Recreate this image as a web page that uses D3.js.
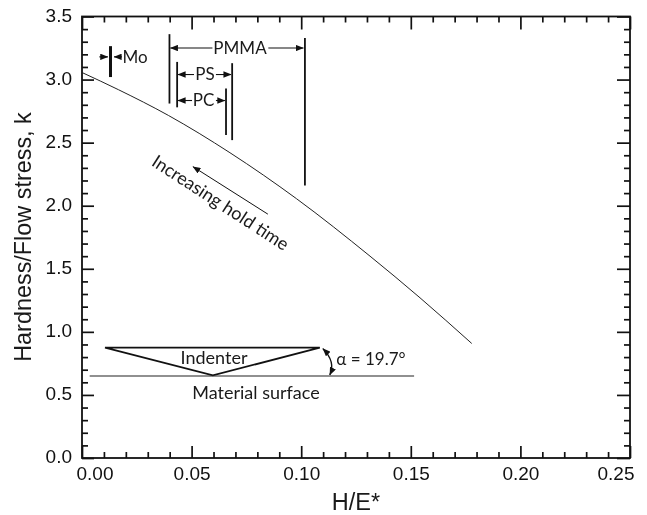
<!DOCTYPE html>
<html>
<head>
<meta charset="utf-8">
<script src="https://cdn.jsdelivr.net/npm/d3@7"></script>
<style>
  html, body { margin: 0; padding: 0; background: #fff; }
  svg { display: block; will-change: transform; }
  .tick text { font-family: "Liberation Sans", Arial, sans-serif; fill: #111; }
  .note { font-family: Lato, "Open Sans", sans-serif; fill: #1a1a1a; }
  .title { font-family: "Liberation Sans", Arial, sans-serif; fill: #1a1a1a; }
</style>
</head>
<body>
<svg id="chart" width="647" height="515"></svg>
<script>
// values
var xMajor = [0, 0.05, 0.10, 0.15, 0.20, 0.25];
var yMajor = [0, 0.5, 1.0, 1.5, 2.0, 2.5, 3.0, 3.5];
var xMinor = d3.range(0, 26).map(function(i) { return i / 100; }).filter(function(d, i) { return i % 5 !== 0; });
var yMinor = d3.range(0, 36).map(function(i) { return i / 10; }).filter(function(d, i) { return i % 5 !== 0; });

var curveX = [0, 0.0166, 0.0394, 0.0675, 0.0979, 0.1314, 0.1542, 0.1778];
var curveY = [3.056, 2.92, 2.716, 2.42, 2.055, 1.60, 1.27, 0.908];

// [x, top, bottom, width]
var bars = [
  [0.0130, 3.265, 3.02, 3],    // Mo
  [0.0399, 3.36, 2.81, 1.8],   // PMMA left
  [0.1017, 3.33, 2.16, 1.8],   // PMMA right
  [0.0434, 3.14, 2.78, 1.8],   // PS left
  [0.0685, 3.13, 2.52, 1.8],   // PS right
  [0.0657, 2.93, 2.56, 1.8]    // PC right
];

// [x1, x2, y, head at start, head at end]
var dims = [
  [0.0079, 0.0118, 3.18, 0, 1],
  [0.0182, 0.0146, 3.18, 0, 1],
  [0.0403, 0.0595, 3.25, 1, 0],
  [0.0850, 0.1010, 3.25, 0, 1],
  [0.0438, 0.0511, 3.04, 1, 0],
  [0.0611, 0.0680, 3.04, 0, 1],
  [0.0438, 0.0502, 2.834, 1, 0],
  [0.0611, 0.0652, 2.834, 0, 1]
];

var holdArrow = [[0.0848, 1.933], [0.0506, 2.31]];
var indenterX = [0.0105, 0.1085, 0.0597];
var indenterY = [0.875, 0.875, 0.655];
var surfaceX = [0.0035, 0.1515];
var surfaceY = 0.65;

var svg = d3.select("#chart");
var plotLeft = 82, plotRight = 630, plotTop = 16.5, plotBottom = 458;

var x = d3.scaleLinear().domain([0, 0.25]).range([plotLeft, plotRight]);
var y = d3.scaleLinear().domain([0, 3.5]).range([plotBottom, plotTop]);

var defs = svg.append("defs");
defs.append("marker")
    .attr("id", "head")
    .attr("viewBox", "0 0 10 8")
    .attr("refX", 9.5)
    .attr("refY", 4)
    .attr("markerUnits", "userSpaceOnUse")
    .attr("markerWidth", 8)
    .attr("markerHeight", 6.5)
    .attr("orient", "auto-start-reverse")
  .append("path")
    .attr("d", "M0,0L10,4L0,8Z")
    .attr("fill", "#111");

function drawAxis(gen, tx, ty, labels) {
  var g = svg.append("g").attr("transform", "translate(" + tx + "," + ty + ")").call(gen);
  g.select(".domain").remove();
  g.selectAll("line").attr("stroke", "#111").attr("stroke-width", 1.7);
  if (!labels) g.selectAll("text").remove();
  return g;
}

// ticks: all four sides point inwards
drawAxis(d3.axisBottom(x).tickValues(xMinor).tickSize(-6), 0, plotBottom);
drawAxis(d3.axisTop(x).tickValues(xMinor).tickSize(-6), 0, plotTop);
drawAxis(d3.axisLeft(y).tickValues(yMinor).tickSize(-6), plotLeft, 0);
drawAxis(d3.axisRight(y).tickValues(yMinor).tickSize(-6), plotRight, 0);
drawAxis(d3.axisTop(x).tickValues(xMajor).tickSize(-13), 0, plotTop);
drawAxis(d3.axisRight(y).tickValues(yMajor).tickSize(-13), plotRight, 0);

var xAxis = drawAxis(d3.axisBottom(x).tickValues(xMajor).tickSize(-12).tickPadding(0).tickFormat(d3.format(".2f")), 0, plotBottom, true);
xAxis.selectAll("text")
    .attr("y", 9)
    .attr("dy", "0.71em")
    .attr("text-anchor", function(d) { return d === 0 ? "start" : d === 0.25 ? "end" : "middle"; })
    .attr("dx", function(d) { return d === 0 ? -6 : d === 0.25 ? 4 : 0; })
    .style("font-size", "19px");

var yAxis = drawAxis(d3.axisLeft(y).tickValues(yMajor).tickSize(-12).tickPadding(10).tickFormat(d3.format(".1f")), plotLeft, 0, true);
yAxis.selectAll("text").attr("dy", "0.25em").style("font-size", "19px");

svg.append("rect")
    .attr("x", plotLeft).attr("y", plotTop)
    .attr("width", plotRight - plotLeft).attr("height", plotBottom - plotTop)
    .attr("fill", "none").attr("stroke", "#111").attr("stroke-width", 1.8);

// main curve
var line = d3.line().x(function(d) { return x(d[0]); }).y(function(d) { return y(d[1]); }).curve(d3.curveMonotoneX);
svg.append("path")
    .datum(d3.zip(curveX, curveY))
    .attr("d", line)
    .attr("fill", "none")
    .attr("stroke", "#222")
    .attr("stroke-width", 1);

svg.selectAll(".bar").data(bars).enter().append("line")
    .attr("class", "bar")
    .attr("x1", function(d) { return x(d[0]); })
    .attr("x2", function(d) { return x(d[0]); })
    .attr("y1", function(d) { return y(d[1]); })
    .attr("y2", function(d) { return y(d[2]); })
    .attr("stroke", "#111")
    .attr("stroke-width", function(d) { return d[3]; });

svg.selectAll(".dim").data(dims).enter().append("line")
    .attr("class", "dim")
    .attr("x1", function(d) { return x(d[0]); })
    .attr("x2", function(d) { return x(d[1]); })
    .attr("y1", function(d) { return y(d[2]); })
    .attr("y2", function(d) { return y(d[2]); })
    .attr("stroke", "#111")
    .attr("stroke-width", 1.1)
    .attr("marker-start", function(d) { return d[3] ? "url(#head)" : null; })
    .attr("marker-end", function(d) { return d[4] ? "url(#head)" : null; });

svg.append("line")
    .attr("x1", x(holdArrow[0][0])).attr("y1", y(holdArrow[0][1]))
    .attr("x2", x(holdArrow[1][0])).attr("y2", y(holdArrow[1][1]))
    .attr("stroke", "#111")
    .attr("stroke-width", 1)
    .attr("marker-end", "url(#head)");

// indenter sketch
svg.append("path")
    .attr("d", d3.line()(d3.zip(indenterX, indenterY).map(function(d) { return [x(d[0]), y(d[1])]; })) + "Z")
    .attr("fill", "none")
    .attr("stroke", "#111")
    .attr("stroke-width", 1.8);

svg.append("line")
    .attr("x1", x(surfaceX[0])).attr("x2", x(surfaceX[1]))
    .attr("y1", y(surfaceY)).attr("y2", y(surfaceY))
    .attr("stroke", "#222")
    .attr("stroke-width", 1.2);

// angle arc
svg.append("path")
    .attr("d", "M" + (x(indenterX[1]) + 3) + "," + (y(indenterY[1]) + 1) + "Q" + (x(indenterX[1]) + 16) + "," + (y(indenterY[1]) + 14) + " " + (x(indenterX[1]) + 10) + "," + (y(surfaceY) - 1))
    .attr("fill", "none")
    .attr("stroke", "#111")
    .attr("stroke-width", 1.4)
    .attr("marker-start", "url(#head)")
    .attr("marker-end", "url(#head)");

function note(text, px, py, size, rot) {
  var t = svg.append("text").attr("class", "note").attr("text-anchor", "middle").style("font-size", size + "px").text(text);
  t.attr("transform", "translate(" + px + "," + py + ")" + (rot ? " rotate(" + rot + ")" : ""));
  return t;
}

note("Mo", 135, 63, 17);
note("PMMA", 240, 54, 17);
note("PS", 205, 80, 17);
note("PC", 203.5, 106, 17);
note("Increasing hold time", 217, 208, 18, 33);
note("Indenter", 214, 364, 18);
note("\u03B1 = 19.7\u00B0", 371, 365, 17);
note("Material surface", 256, 399, 18);

svg.append("text").attr("class", "title")
    .attr("x", 356).attr("y", 510)
    .attr("text-anchor", "middle")
    .style("font-size", "23.5px")
    .text("H/E*");

svg.append("text").attr("class", "title")
    .attr("transform", "translate(31,237) rotate(-90)")
    .attr("text-anchor", "middle")
    .style("font-size", "23.4px")
    .text("Hardness/Flow stress, k");
</script>
</body>
</html>
